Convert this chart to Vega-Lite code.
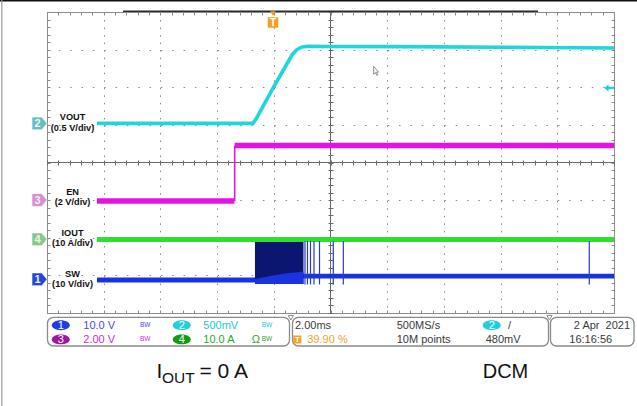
{
  "$schema": "https://vega.github.io/schema/vega-lite/v6.json",
  "width": 567,
  "height": 301,
  "padding": {"left": 47, "top": 12, "right": 23, "bottom": 93},
  "autosize": {"type": "none"},
  "background": "white",
  "config": {"view": {"stroke": "#8c8c8c", "strokeWidth": 1}},
  "resolve": {
    "axis": {"x": "independent", "y": "independent"},
    "scale": {"color": "independent", "fill": "independent"}
  },
  "datasets": {
    "one": [{}],
    "vout": [
      {"x": 0.882, "y": 5.04}, {"x": 3.633, "y": 5.04}, {"x": 3.686, "y": 5.156},
      {"x": 3.986, "y": 5.975}, {"x": 4.321, "y": 6.857}, {"x": 4.409, "y": 7.003},
      {"x": 4.497, "y": 7.07}, {"x": 4.603, "y": 7.09}, {"x": 5.0, "y": 7.085},
      {"x": 6.2, "y": 7.08}, {"x": 8.0, "y": 7.065}, {"x": 10.0, "y": 7.045}
    ],
    "en": [
      {"x": 0.882, "y": 2.977, "seg": "low"}, {"x": 3.305, "y": 2.977, "seg": "low"},
      {"x": 3.31, "y": 4.452, "seg": "high"}, {"x": 10.0, "y": 4.452, "seg": "high"}
    ],
    "enstep": [{"x": 3.31, "y": 2.977, "y2": 4.452}],
    "iout": [{"x": 0.882, "y": 1.953}, {"x": 10.0, "y": 1.953}],
    "sw": [
      {"x": 0.882, "y": 0.877}, {"x": 3.668, "y": 0.877},
      {"x": 4.524, "y": 0.978}, {"x": 10.0, "y": 0.978}
    ],
    "burst": [{"x": 3.668, "x2": 4.524, "y": 1.89, "y2": 0.771}],
    "hump": [
      {"x": 3.668, "y": 0.904}, {"x": 3.933, "y": 0.983}, {"x": 4.198, "y": 1.05},
      {"x": 4.462, "y": 1.09}, {"x": 4.524, "y": 1.103}
    ],
    "spikes": [
      {"x": 4.55}, {"x": 4.594}, {"x": 4.647}, {"x": 4.709}, {"x": 4.806},
      {"x": 5.049}, {"x": 5.226}, {"x": 9.564}
    ],
    "markers": [
      {"x": -0.132, "y": 5.037, "ch": "2"}, {"x": -0.132, "y": 3.003, "ch": "3"},
      {"x": -0.132, "y": 1.959, "ch": "4"}, {"x": -0.132, "y": 0.896, "ch": "1"}
    ],
    "chlabels": [
      {"x": 0.45, "y": 5.203, "text": "VOUT"}, {"x": 0.45, "y": 4.93, "text": "(0.5 V/div)"},
      {"x": 0.45, "y": 3.208, "text": "EN"}, {"x": 0.45, "y": 2.942, "text": "(2 V/div)"},
      {"x": 0.45, "y": 2.134, "text": "IOUT"}, {"x": 0.45, "y": 1.853, "text": "(10 A/div)"},
      {"x": 0.45, "y": 1.029, "text": "SW"}, {"x": 0.45, "y": 0.763, "text": "(10 V/div)"}
    ],
    "boxes": [
      {"x": 0.009, "x2": 4.277, "y": -0.114, "y2": -0.877},
      {"x": 4.33, "x2": 8.845, "y": -0.114, "y2": -0.877},
      {"x": 8.88, "x2": 10.353, "y": -0.114, "y2": -0.877}
    ],
    "notches": [{"x": 4.3, "y": -0.125}, {"x": 8.862, "y": -0.125}],
    "pills": [
      {"x": 0.243, "y": -0.327, "ch": "1"}, {"x": 0.243, "y": -0.702, "ch": "3"},
      {"x": 2.377, "y": -0.327, "ch": "2"}, {"x": 2.377, "y": -0.702, "ch": "4"},
      {"x": 7.843, "y": -0.327, "ch": "2"}
    ],
    "ptext": [
      {"x": 0.64, "y": -0.327, "text": "10.0 V", "c": "c1"},
      {"x": 0.64, "y": -0.702, "text": "2.00 V", "c": "c3"},
      {"x": 2.757, "y": -0.327, "text": "500mV", "c": "c2"},
      {"x": 2.757, "y": -0.702, "text": "10.0 A", "c": "c4"},
      {"x": 3.61, "y": -0.702, "text": "Ω", "c": "c4"},
      {"x": 4.374, "y": -0.327, "text": "2.00ms", "c": "k"},
      {"x": 6.168, "y": -0.327, "text": "500MS/s", "c": "k"},
      {"x": 8.131, "y": -0.327, "text": "/", "c": "k"},
      {"x": 4.591, "y": -0.702, "text": "39.90 %", "c": "o"},
      {"x": 6.168, "y": -0.702, "text": "10M points", "c": "k"},
      {"x": 7.737, "y": -0.702, "text": "480mV", "c": "k"},
      {"x": 9.212, "y": -0.702, "text": "16:16:56", "c": "k"}
    ],
    "bw": [
      {"x": 1.64, "y": -0.327, "text": "BW", "c": "c1"},
      {"x": 1.64, "y": -0.702, "text": "BW", "c": "c3"},
      {"x": 3.787, "y": -0.327, "text": "BW", "c": "c2"},
      {"x": 3.787, "y": -0.702, "text": "BW", "c": "c4"}
    ],
    "date": [{"x": 10.284, "y": -0.327, "text": "2 Apr\u00a0 2021"}],
    "tpanel": [{"x": 4.415, "y": -0.704, "text": "T"}],
    "ttop": [{"x": 3.986, "y": 7.721, "text": "T"}],
    "ttri": [{"x": 3.986, "y": 7.96}],
    "trig": [{"x": 9.912, "y": 5.98}],
    "cursor": [{"x": 5.802, "y": 6.419}],
    "big": [
      {"x": 1.931, "y": -1.736, "text": "I"},
      {"x": 2.69, "y": -1.736, "text": "= 0 A"}
    ],
    "sub": [{"x": 2.028, "y": -1.86, "text": "OUT"}],
    "dcm": [{"x": 8.086, "y": -1.736, "text": "DCM"}]
  },
  "layer": [
    {
      "data": {"name": "one"},
      "mark": {"type": "rule", "color": "#111111", "strokeWidth": 1.5},
      "encoding": {
        "x": {"datum": -0.85, "type": "quantitative", "scale": {"domain": [0, 10], "nice": false, "zero": false}, "axis": null},
        "x2": {"datum": 10.45},
        "y": {"datum": 8.3, "type": "quantitative", "scale": {"domain": [0, 8], "nice": false, "zero": false}, "axis": null}
      }
    },
    {
      "data": {"name": "one"},
      "mark": {"type": "rule", "color": "#9a9a9a", "strokeWidth": 1.2},
      "encoding": {
        "x": {"datum": -0.797, "type": "quantitative", "scale": {"domain": [0, 10], "nice": false, "zero": false}, "axis": null},
        "y": {"datum": 8.32, "type": "quantitative", "scale": {"domain": [0, 8], "nice": false, "zero": false}, "axis": null},
        "y2": {"datum": -2.48}
      }
    },
    {
      "data": {"name": "one"},
      "mark": {"type": "rule", "color": "#6a6a6a", "strokeWidth": 1},
      "encoding": {
        "x": {"datum": 5, "type": "quantitative", "scale": {"domain": [0, 10], "nice": false, "zero": false}, "axis": null},
        "y": {"datum": 0, "type": "quantitative", "scale": {"domain": [0, 8], "nice": false, "zero": false}, "axis": null},
        "y2": {"datum": 8}
      }
    },
    {
      "data": {"name": "one"},
      "mark": {"type": "rule", "color": "#6a6a6a", "strokeWidth": 1},
      "encoding": {
        "x": {"datum": 0, "type": "quantitative", "scale": {"domain": [0, 10], "nice": false, "zero": false}, "axis": null},
        "x2": {"datum": 10},
        "y": {"datum": 4, "type": "quantitative", "scale": {"domain": [0, 8], "nice": false, "zero": false}, "axis": null}
      }
    },
    {
      "data": {"name": "one"},
      "mark": {"type": "rule", "color": "#2a2a2a", "strokeWidth": 1.6},
      "encoding": {
        "x": {"datum": 1.34, "type": "quantitative", "scale": {"domain": [0, 10], "nice": false, "zero": false}, "axis": null},
        "x2": {"datum": 8.66},
        "y": {"datum": 8.02, "type": "quantitative", "scale": {"domain": [0, 8], "nice": false, "zero": false}, "axis": null}
      }
    },
    {
      "data": {"name": "vout"},
      "mark": {"type": "line", "color": "#1ed6de", "strokeWidth": 3.6, "strokeCap": "butt", "strokeJoin": "round"},
      "encoding": {
        "x": {"field": "x", "type": "quantitative", "scale": {"domain": [0, 10], "nice": false, "zero": false},
          "axis": {"orient": "bottom", "values": [1, 2, 3, 4, 6, 7, 8, 9], "grid": true, "gridDash": [1.5, 6.03], "gridColor": "#8a8a8a", "gridWidth": 1, "ticks": false, "labels": false, "domain": false, "title": null}},
        "y": {"field": "y", "type": "quantitative", "scale": {"domain": [0, 8], "nice": false, "zero": false},
          "axis": {"orient": "left", "values": [1, 2, 3, 5, 6, 7], "grid": true, "gridDash": [1.5, 9.84], "gridColor": "#8a8a8a", "gridWidth": 1, "ticks": false, "labels": false, "domain": false, "title": null}}
      }
    },
    {
      "data": {"name": "en"},
      "mark": {"type": "line", "color": "#e313e3", "strokeWidth": 5.5, "strokeCap": "butt"},
      "encoding": {
        "x": {"field": "x", "type": "quantitative", "scale": {"domain": [0, 10], "nice": false, "zero": false},
          "axis": {"orient": "bottom", "values": [0,0.2,0.4,0.6,0.8,1,1.2,1.4,1.6,1.8,2,2.2,2.4,2.6,2.8,3,3.2,3.4,3.6,3.8,4,4.2,4.4,4.6,4.8,5,5.2,5.4,5.6,5.8,6,6.2,6.4,6.6,6.8,7,7.2,7.4,7.6,7.8,8,8.2,8.4,8.6,8.8,9,9.2,9.4,9.6,9.8,10], "offset": -3, "tickSize": 3, "tickColor": "#8a8a8a", "tickWidth": 1, "grid": false, "labels": false, "domain": false, "title": null}},
        "y": {"field": "y", "type": "quantitative", "scale": {"domain": [0, 8], "nice": false, "zero": false},
          "axis": {"orient": "left", "values": [0,0.2,0.4,0.6,0.8,1,1.2,1.4,1.6,1.8,2,2.2,2.4,2.6,2.8,3,3.2,3.4,3.6,3.8,4,4.2,4.4,4.6,4.8,5,5.2,5.4,5.6,5.8,6,6.2,6.4,6.6,6.8,7,7.2,7.4,7.6,7.8,8], "offset": -3, "tickSize": 3, "tickColor": "#8a8a8a", "tickWidth": 1, "grid": false, "labels": false, "domain": false, "title": null}},
        "detail": {"field": "seg", "type": "nominal"}
      }
    },
    {
      "data": {"name": "enstep"},
      "mark": {"type": "rule", "color": "#e313e3", "strokeWidth": 1.6},
      "encoding": {
        "x": {"field": "x", "type": "quantitative", "scale": {"domain": [0, 10], "nice": false, "zero": false}, "axis": null},
        "y": {"field": "y", "type": "quantitative", "scale": {"domain": [0, 8], "nice": false, "zero": false}, "axis": null},
        "y2": {"field": "y2"}
      }
    },
    {
      "data": {"name": "iout"},
      "mark": {"type": "line", "color": "#2ce02c", "strokeWidth": 5, "strokeCap": "butt"},
      "encoding": {
        "x": {"field": "x", "type": "quantitative", "scale": {"domain": [0, 10], "nice": false, "zero": false},
          "axis": {"orient": "top", "values": [0,0.2,0.4,0.6,0.8,1,1.2,1.4,1.6,1.8,2,2.2,2.4,2.6,2.8,3,3.2,3.4,3.6,3.8,4,4.2,4.4,4.6,4.8,5,5.2,5.4,5.6,5.8,6,6.2,6.4,6.6,6.8,7,7.2,7.4,7.6,7.8,8,8.2,8.4,8.6,8.8,9,9.2,9.4,9.6,9.8,10], "offset": -3, "tickSize": 3, "tickColor": "#8a8a8a", "tickWidth": 1, "grid": false, "labels": false, "domain": false, "title": null}},
        "y": {"field": "y", "type": "quantitative", "scale": {"domain": [0, 8], "nice": false, "zero": false},
          "axis": {"orient": "right", "values": [0,0.2,0.4,0.6,0.8,1,1.2,1.4,1.6,1.8,2,2.2,2.4,2.6,2.8,3,3.2,3.4,3.6,3.8,4,4.2,4.4,4.6,4.8,5,5.2,5.4,5.6,5.8,6,6.2,6.4,6.6,6.8,7,7.2,7.4,7.6,7.8,8], "offset": -3, "tickSize": 3, "tickColor": "#8a8a8a", "tickWidth": 1, "grid": false, "labels": false, "domain": false, "title": null}}
      }
    },
    {
      "data": {"name": "sw"},
      "mark": {"type": "line", "color": "#1a33e0", "strokeWidth": 4.8, "strokeCap": "butt"},
      "encoding": {
        "x": {"field": "x", "type": "quantitative", "scale": {"domain": [0, 10], "nice": false, "zero": false},
          "axis": {"orient": "bottom", "values": [0,0.2,0.4,0.6,0.8,1,1.2,1.4,1.6,1.8,2,2.2,2.4,2.6,2.8,3,3.2,3.4,3.6,3.8,4,4.2,4.4,4.6,4.8,5,5.2,5.4,5.6,5.8,6,6.2,6.4,6.6,6.8,7,7.2,7.4,7.6,7.8,8,8.2,8.4,8.6,8.8,9,9.2,9.4,9.6,9.8,10], "offset": -153, "tickSize": 5, "tickColor": "#6a6a6a", "tickWidth": 1, "grid": false, "labels": false, "domain": false, "title": null}},
        "y": {"field": "y", "type": "quantitative", "scale": {"domain": [0, 8], "nice": false, "zero": false},
          "axis": {"orient": "left", "values": [0,0.2,0.4,0.6,0.8,1,1.2,1.4,1.6,1.8,2,2.2,2.4,2.6,2.8,3,3.2,3.4,3.6,3.8,4,4.2,4.4,4.6,4.8,5,5.2,5.4,5.6,5.8,6,6.2,6.4,6.6,6.8,7,7.2,7.4,7.6,7.8,8], "offset": -286, "tickSize": 5, "tickColor": "#6a6a6a", "tickWidth": 1, "grid": false, "labels": false, "domain": false, "title": null}}
      }
    },
    {
      "data": {"name": "burst"},
      "mark": {"type": "rect", "color": "#0b1670"},
      "encoding": {
        "x": {"field": "x", "type": "quantitative", "scale": {"domain": [0, 10], "nice": false, "zero": false}, "axis": null},
        "x2": {"field": "x2"},
        "y": {"field": "y", "type": "quantitative", "scale": {"domain": [0, 8], "nice": false, "zero": false}, "axis": null},
        "y2": {"field": "y2"}
      }
    },
    {
      "data": {"name": "hump"},
      "mark": {"type": "area", "color": "#1a33e0", "opacity": 1},
      "encoding": {
        "x": {"field": "x", "type": "quantitative", "scale": {"domain": [0, 10], "nice": false, "zero": false}, "axis": null},
        "y": {"field": "y", "type": "quantitative", "scale": {"domain": [0, 8], "nice": false, "zero": false}, "axis": null},
        "y2": {"datum": 0.771}
      }
    },
    {
      "data": {"name": "spikes"},
      "mark": {"type": "rule", "color": "#2a3cc4", "strokeWidth": 1.2},
      "encoding": {
        "x": {"field": "x", "type": "quantitative", "scale": {"domain": [0, 10], "nice": false, "zero": false}, "axis": null},
        "y": {"datum": 1.91, "type": "quantitative", "scale": {"domain": [0, 8], "nice": false, "zero": false}, "axis": null},
        "y2": {"datum": 0.76}
      }
    },
    {
      "data": {"name": "markers"},
      "mark": {"type": "point", "shape": "M-1,-0.85L0.3,-0.85L1,0L0.3,0.85L-1,0.85Z", "size": 225, "filled": true, "stroke": "#ffffff", "strokeWidth": 0.6, "opacity": 1},
      "encoding": {
        "x": {"field": "x", "type": "quantitative", "scale": {"domain": [0, 10], "nice": false, "zero": false}, "axis": null},
        "y": {"field": "y", "type": "quantitative", "scale": {"domain": [0, 8], "nice": false, "zero": false}, "axis": null},
        "fill": {"field": "ch", "type": "nominal", "scale": {"domain": ["1", "2", "3", "4"], "range": ["#2446e0", "#62c0c2", "#d590d5", "#86c886"]}, "legend": null}
      }
    },
    {
      "data": {"name": "markers"},
      "mark": {"type": "text", "font": "Liberation Sans", "fontSize": 11, "fontWeight": "bold", "color": "#f2f2f2", "align": "center", "baseline": "middle", "dx": -2, "dy": 0.5},
      "encoding": {
        "x": {"field": "x", "type": "quantitative", "scale": {"domain": [0, 10], "nice": false, "zero": false}, "axis": null},
        "y": {"field": "y", "type": "quantitative", "scale": {"domain": [0, 8], "nice": false, "zero": false}, "axis": null},
        "text": {"field": "ch"}
      }
    },
    {
      "data": {"name": "chlabels"},
      "mark": {"type": "text", "font": "Liberation Sans", "fontSize": 9.2, "fontWeight": "bold", "color": "#111111", "align": "center", "baseline": "middle"},
      "encoding": {
        "x": {"field": "x", "type": "quantitative", "scale": {"domain": [0, 10], "nice": false, "zero": false}, "axis": null},
        "y": {"field": "y", "type": "quantitative", "scale": {"domain": [0, 8], "nice": false, "zero": false}, "axis": null},
        "text": {"field": "text"}
      }
    },
    {
      "data": {"name": "ttri"},
      "mark": {"type": "point", "shape": "triangle-down", "size": 30, "filled": true, "color": "#f4a020", "opacity": 1},
      "encoding": {
        "x": {"field": "x", "type": "quantitative", "scale": {"domain": [0, 10], "nice": false, "zero": false}, "axis": null},
        "y": {"field": "y", "type": "quantitative", "scale": {"domain": [0, 8], "nice": false, "zero": false}, "axis": null}
      }
    },
    {
      "data": {"name": "ttop"},
      "mark": {"type": "point", "shape": "square", "size": 110, "filled": true, "color": "#f4a020", "opacity": 1},
      "encoding": {
        "x": {"field": "x", "type": "quantitative", "scale": {"domain": [0, 10], "nice": false, "zero": false}, "axis": null},
        "y": {"field": "y", "type": "quantitative", "scale": {"domain": [0, 8], "nice": false, "zero": false}, "axis": null}
      }
    },
    {
      "data": {"name": "ttop"},
      "mark": {"type": "text", "font": "Liberation Sans", "fontSize": 10, "fontWeight": "bold", "color": "#ffffff", "align": "center", "baseline": "middle", "dy": 0.5},
      "encoding": {
        "x": {"field": "x", "type": "quantitative", "scale": {"domain": [0, 10], "nice": false, "zero": false}, "axis": null},
        "y": {"field": "y", "type": "quantitative", "scale": {"domain": [0, 8], "nice": false, "zero": false}, "axis": null},
        "text": {"field": "text"}
      }
    },
    {
      "data": {"name": "trig"},
      "mark": {"type": "point", "shape": "M-1,0L-0.1,-0.75L-0.1,-0.25L1,-0.25L1,0.25L-0.1,0.25L-0.1,0.75Z", "size": 90, "filled": true, "color": "#22d0dc", "opacity": 1},
      "encoding": {
        "x": {"field": "x", "type": "quantitative", "scale": {"domain": [0, 10], "nice": false, "zero": false}, "axis": null},
        "y": {"field": "y", "type": "quantitative", "scale": {"domain": [0, 8], "nice": false, "zero": false}, "axis": null}
      }
    },
    {
      "data": {"name": "cursor"},
      "mark": {"type": "point", "shape": "M-0.45,-1L-0.45,0.55L-0.1,0.2L0.15,0.75L0.35,0.65L0.1,0.12L0.5,0.12Z", "size": 110, "filled": true, "fill": "#ffffff", "stroke": "#777777", "strokeWidth": 0.8, "opacity": 1},
      "encoding": {
        "x": {"field": "x", "type": "quantitative", "scale": {"domain": [0, 10], "nice": false, "zero": false}, "axis": null},
        "y": {"field": "y", "type": "quantitative", "scale": {"domain": [0, 8], "nice": false, "zero": false}, "axis": null}
      }
    },
    {
      "data": {"name": "boxes"},
      "mark": {"type": "rect", "fill": "#ffffff", "fillOpacity": 0, "stroke": "#8a8a8a", "strokeWidth": 1.3, "cornerRadius": 6},
      "encoding": {
        "x": {"field": "x", "type": "quantitative", "scale": {"domain": [0, 10], "nice": false, "zero": false}, "axis": null},
        "x2": {"field": "x2"},
        "y": {"field": "y", "type": "quantitative", "scale": {"domain": [0, 8], "nice": false, "zero": false}, "axis": null},
        "y2": {"field": "y2"}
      }
    },
    {
      "data": {"name": "notches"},
      "mark": {"type": "point", "shape": "triangle-down", "size": 28, "filled": true, "fill": "#ffffff", "stroke": "#8a8a8a", "strokeWidth": 1, "opacity": 1},
      "encoding": {
        "x": {"field": "x", "type": "quantitative", "scale": {"domain": [0, 10], "nice": false, "zero": false}, "axis": null},
        "y": {"field": "y", "type": "quantitative", "scale": {"domain": [0, 8], "nice": false, "zero": false}, "axis": null}
      }
    },
    {
      "data": {"name": "pills"},
      "mark": {"type": "point", "shape": "M-1,0A1,0.55 0 1,0 1,0A1,0.55 0 1,0 -1,0Z", "size": 324, "filled": true, "opacity": 1},
      "encoding": {
        "x": {"field": "x", "type": "quantitative", "scale": {"domain": [0, 10], "nice": false, "zero": false}, "axis": null},
        "y": {"field": "y", "type": "quantitative", "scale": {"domain": [0, 8], "nice": false, "zero": false}, "axis": null},
        "fill": {"field": "ch", "type": "nominal", "scale": {"domain": ["1", "2", "3", "4"], "range": ["#1f3fe6", "#1ed0dc", "#a0169f", "#139b13"]}, "legend": null}
      }
    },
    {
      "data": {"name": "pills"},
      "mark": {"type": "text", "font": "Liberation Sans", "fontSize": 11, "color": "#ffffff", "align": "center", "baseline": "middle", "dy": 0.5},
      "encoding": {
        "x": {"field": "x", "type": "quantitative", "scale": {"domain": [0, 10], "nice": false, "zero": false}, "axis": null},
        "y": {"field": "y", "type": "quantitative", "scale": {"domain": [0, 8], "nice": false, "zero": false}, "axis": null},
        "text": {"field": "ch"}
      }
    },
    {
      "data": {"name": "ptext"},
      "mark": {"type": "text", "font": "Liberation Sans", "fontSize": 11, "align": "left", "baseline": "middle", "dy": 0.5},
      "encoding": {
        "x": {"field": "x", "type": "quantitative", "scale": {"domain": [0, 10], "nice": false, "zero": false}, "axis": null},
        "y": {"field": "y", "type": "quantitative", "scale": {"domain": [0, 8], "nice": false, "zero": false}, "axis": null},
        "text": {"field": "text"},
        "color": {"field": "c", "type": "nominal", "scale": {"domain": ["k", "c1", "c2", "c3", "c4", "o"], "range": ["#3a3a3a", "#4848e6", "#26c6d6", "#c82ec8", "#2aa82a", "#f5a030"]}, "legend": null}
      }
    },
    {
      "data": {"name": "bw"},
      "mark": {"type": "text", "font": "Liberation Sans", "fontSize": 6.5, "align": "left", "baseline": "middle"},
      "encoding": {
        "x": {"field": "x", "type": "quantitative", "scale": {"domain": [0, 10], "nice": false, "zero": false}, "axis": null},
        "y": {"field": "y", "type": "quantitative", "scale": {"domain": [0, 8], "nice": false, "zero": false}, "axis": null},
        "text": {"field": "text"},
        "color": {"field": "c", "type": "nominal", "scale": {"domain": ["c1", "c2", "c3", "c4"], "range": ["#4848e6", "#26c6d6", "#c82ec8", "#2aa82a"]}, "legend": null}
      }
    },
    {
      "data": {"name": "date"},
      "mark": {"type": "text", "font": "Liberation Sans", "fontSize": 11, "align": "right", "baseline": "middle", "color": "#3a3a3a", "dy": 0.5},
      "encoding": {
        "x": {"field": "x", "type": "quantitative", "scale": {"domain": [0, 10], "nice": false, "zero": false}, "axis": null},
        "y": {"field": "y", "type": "quantitative", "scale": {"domain": [0, 8], "nice": false, "zero": false}, "axis": null},
        "text": {"field": "text"}
      }
    },
    {
      "data": {"name": "tpanel"},
      "mark": {"type": "point", "shape": "square", "size": 64, "filled": true, "color": "#f5a020", "opacity": 1},
      "encoding": {
        "x": {"field": "x", "type": "quantitative", "scale": {"domain": [0, 10], "nice": false, "zero": false}, "axis": null},
        "y": {"field": "y", "type": "quantitative", "scale": {"domain": [0, 8], "nice": false, "zero": false}, "axis": null}
      }
    },
    {
      "data": {"name": "tpanel"},
      "mark": {"type": "text", "font": "Liberation Sans", "fontSize": 8, "fontWeight": "bold", "color": "#ffffff", "align": "center", "baseline": "middle", "dy": 0.5},
      "encoding": {
        "x": {"field": "x", "type": "quantitative", "scale": {"domain": [0, 10], "nice": false, "zero": false}, "axis": null},
        "y": {"field": "y", "type": "quantitative", "scale": {"domain": [0, 8], "nice": false, "zero": false}, "axis": null},
        "text": {"field": "text"}
      }
    },
    {
      "data": {"name": "big"},
      "mark": {"type": "text", "font": "Liberation Sans", "fontSize": 21, "color": "#111111", "align": "left", "baseline": "alphabetic"},
      "encoding": {
        "x": {"field": "x", "type": "quantitative", "scale": {"domain": [0, 10], "nice": false, "zero": false}, "axis": null},
        "y": {"field": "y", "type": "quantitative", "scale": {"domain": [0, 8], "nice": false, "zero": false}, "axis": null},
        "text": {"field": "text"}
      }
    },
    {
      "data": {"name": "sub"},
      "mark": {"type": "text", "font": "Liberation Sans", "fontSize": 15.5, "color": "#111111", "align": "left", "baseline": "alphabetic"},
      "encoding": {
        "x": {"field": "x", "type": "quantitative", "scale": {"domain": [0, 10], "nice": false, "zero": false}, "axis": null},
        "y": {"field": "y", "type": "quantitative", "scale": {"domain": [0, 8], "nice": false, "zero": false}, "axis": null},
        "text": {"field": "text"}
      }
    },
    {
      "data": {"name": "dcm"},
      "mark": {"type": "text", "font": "Liberation Sans", "fontSize": 20, "color": "#111111", "align": "center", "baseline": "alphabetic"},
      "encoding": {
        "x": {"field": "x", "type": "quantitative", "scale": {"domain": [0, 10], "nice": false, "zero": false}, "axis": null},
        "y": {"field": "y", "type": "quantitative", "scale": {"domain": [0, 8], "nice": false, "zero": false}, "axis": null},
        "text": {"field": "text"}
      }
    }
  ]
}
